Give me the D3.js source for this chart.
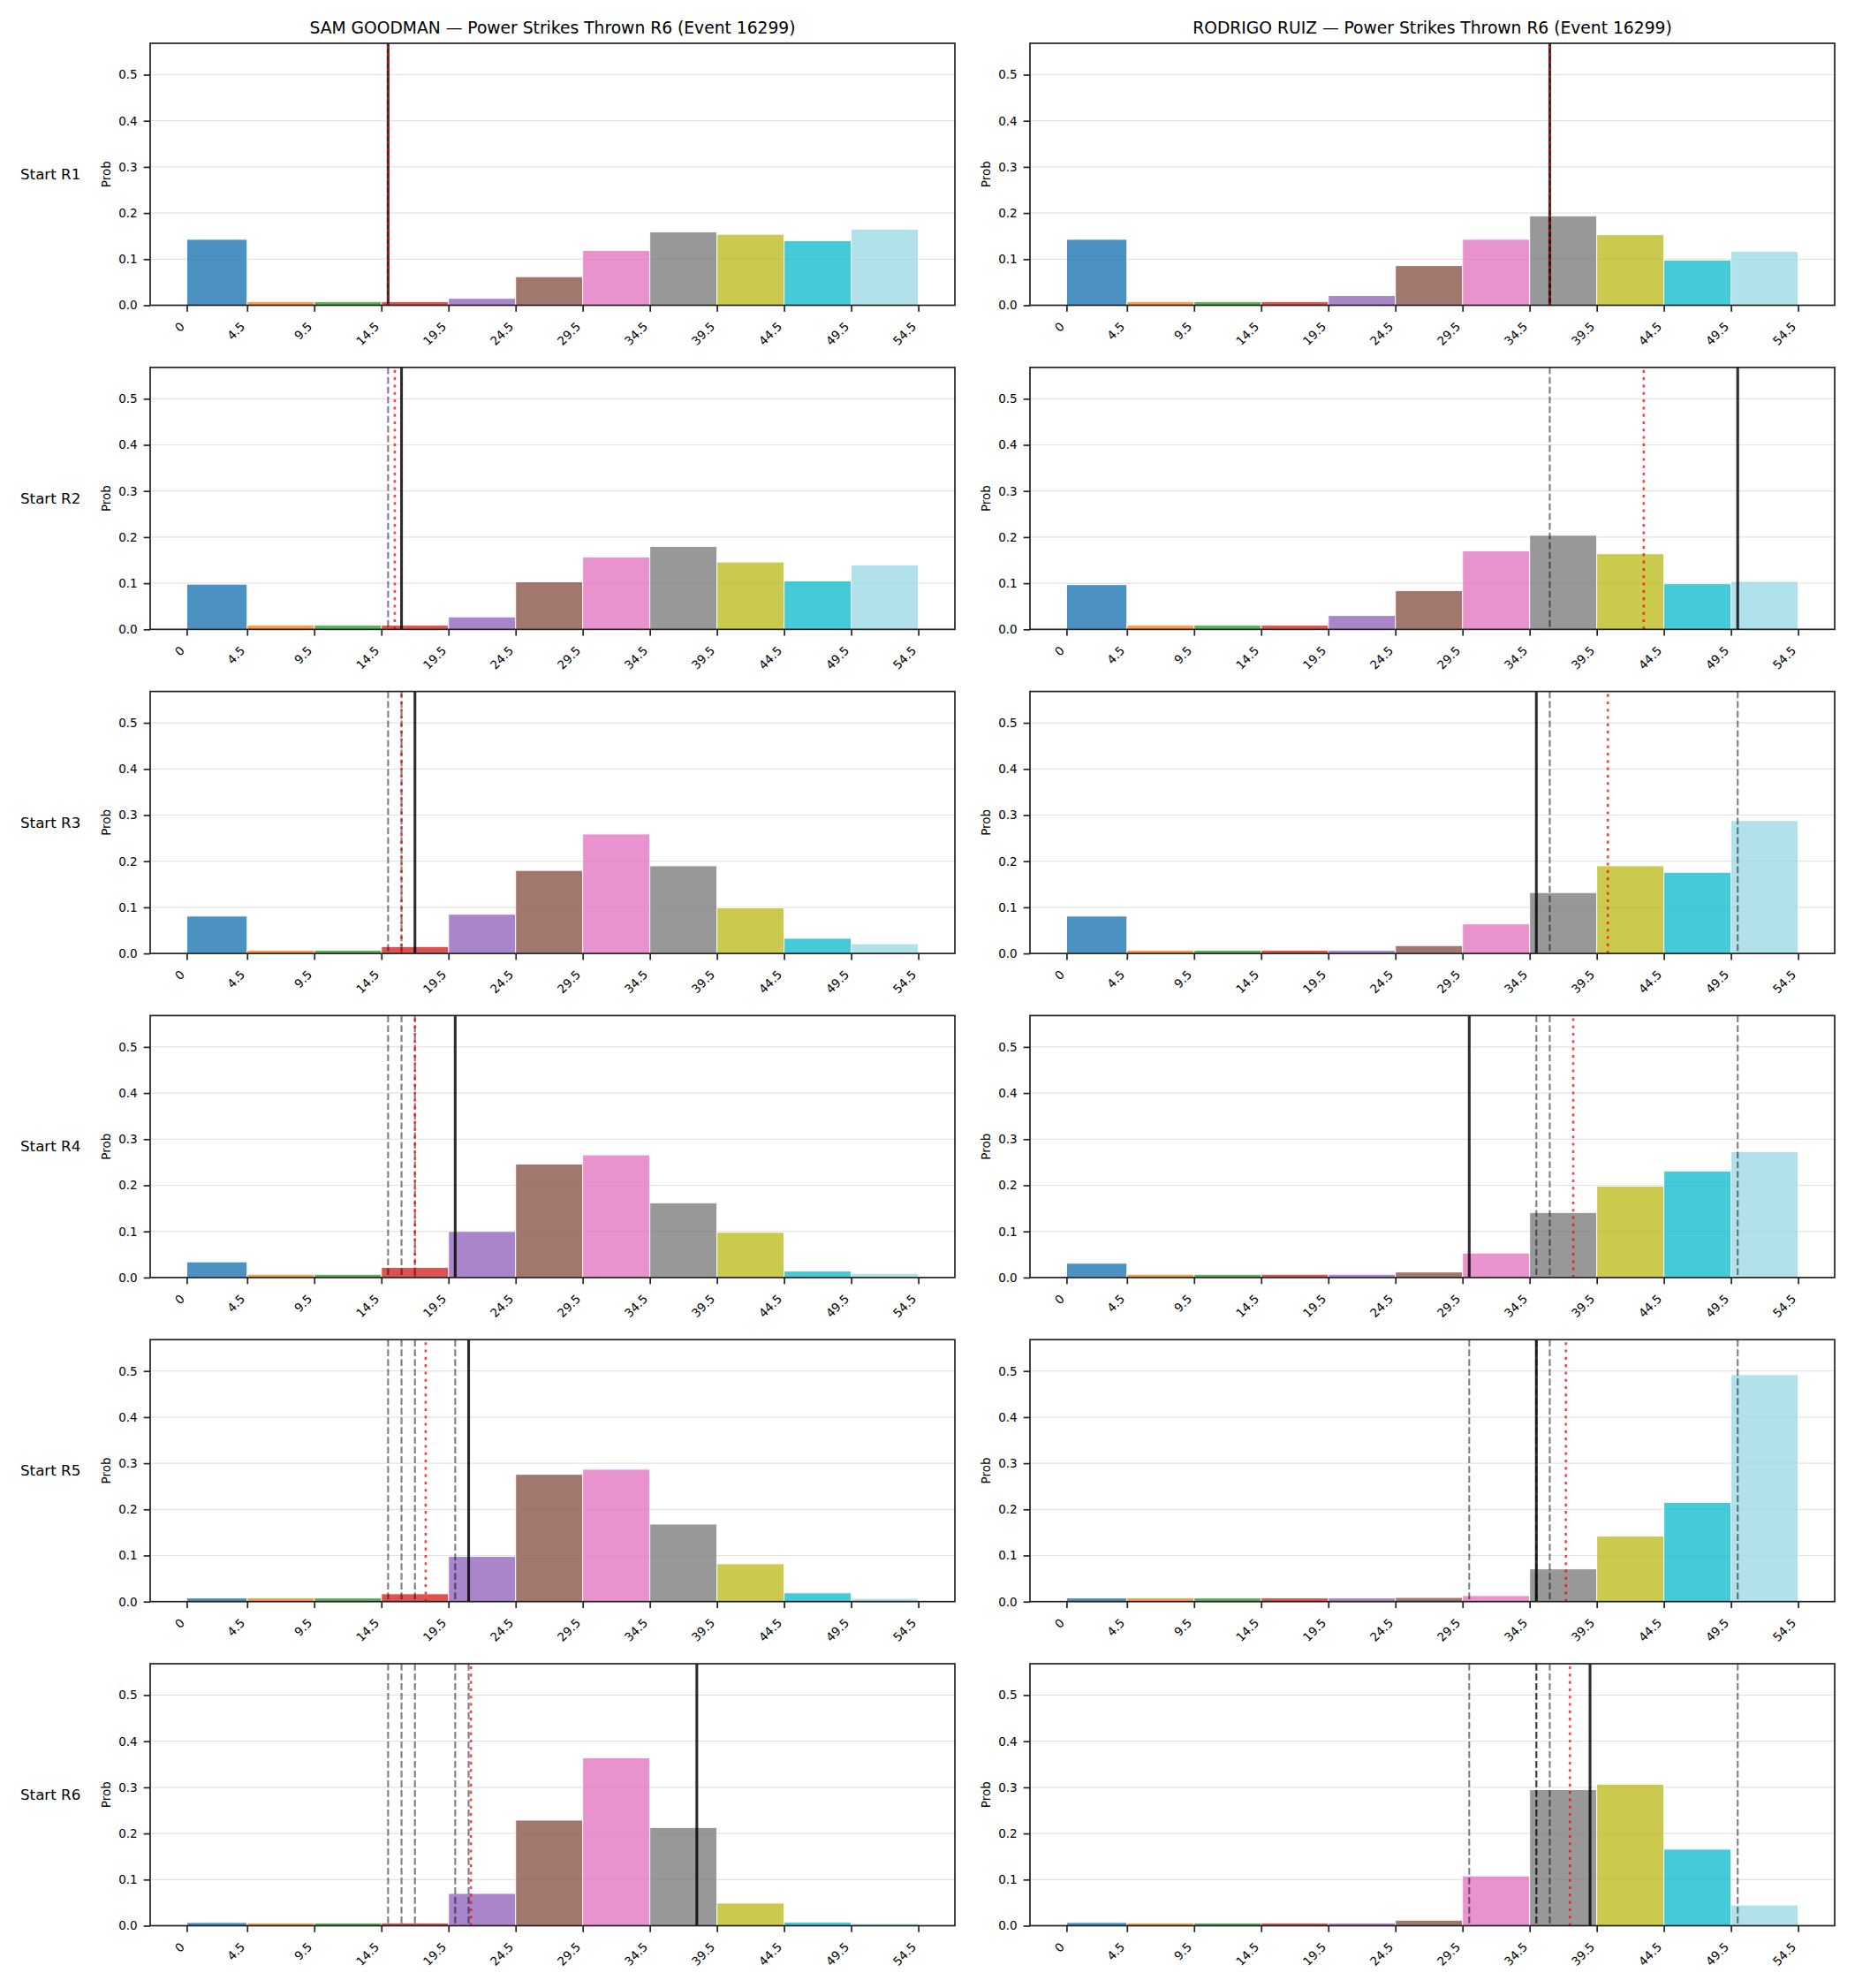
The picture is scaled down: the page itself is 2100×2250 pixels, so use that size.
<!DOCTYPE html>
<html>
<head>
<meta charset="utf-8">
<script src="https://cdn.jsdelivr.net/npm/d3@7/dist/d3.min.js"></script>
<style>
    body { margin: 0; background: #fff; }
    svg { display: block; font-family: "DejaVu Sans", sans-serif; }
</style>
</head>
<body>
<div id="chart"></div>
<script>

// bin edges + tick labels of the x axis
const binEdges = [0, 4.5, 9.5, 14.5, 19.5, 24.5, 29.5, 34.5, 39.5, 44.5, 49.5, 54.5];
const tickLabels = ["0", "4.5", "9.5", "14.5", "19.5", "24.5", "29.5", "34.5", "39.5", "44.5", "49.5", "54.5"];
const yTicks = [0, 0.1, 0.2, 0.3, 0.4, 0.5];
const rowLabels = ["Start R1", "Start R2", "Start R3", "Start R4", "Start R5", "Start R6"];
const fighters = ["SAM GOODMAN", "RODRIGO RUIZ"];

// one array of bin probabilities per starting round
const samProbs = [
    [0.143, 0.008, 0.008, 0.008, 0.015, 0.062, 0.119, 0.159, 0.154, 0.140, 0.165],
    [0.098, 0.009, 0.009, 0.009, 0.027, 0.103, 0.157, 0.180, 0.146, 0.105, 0.140],
    [0.081, 0.007, 0.007, 0.015, 0.085, 0.180, 0.259, 0.190, 0.099, 0.033, 0.021],
    [0.034, 0.007, 0.007, 0.022, 0.100, 0.246, 0.266, 0.162, 0.098, 0.014, 0.009],
    [0.008, 0.008, 0.008, 0.017, 0.098, 0.276, 0.287, 0.168, 0.082, 0.019, 0.007],
    [0.007, 0.006, 0.006, 0.006, 0.070, 0.229, 0.364, 0.213, 0.049, 0.008, 0.005]
];
const ruizProbs = [
    [0.143, 0.008, 0.008, 0.008, 0.021, 0.086, 0.143, 0.194, 0.153, 0.098, 0.117],
    [0.097, 0.009, 0.009, 0.009, 0.030, 0.084, 0.170, 0.204, 0.164, 0.099, 0.104],
    [0.081, 0.007, 0.007, 0.007, 0.007, 0.017, 0.064, 0.132, 0.190, 0.176, 0.288],
    [0.031, 0.007, 0.007, 0.007, 0.007, 0.012, 0.053, 0.141, 0.198, 0.231, 0.273],
    [0.008, 0.008, 0.008, 0.008, 0.008, 0.009, 0.013, 0.071, 0.142, 0.215, 0.492],
    [0.007, 0.006, 0.006, 0.006, 0.006, 0.012, 0.108, 0.295, 0.307, 0.166, 0.045]
];

// actual strikes per round (solid line, earlier ones dashed) and running mean (red dotted)
const samStrikes = [15, 16, 17, 20, 21, 38];
const ruizStrikes = [36, 50, 35, 30, 35, 39];
const samMeans = [15, 15.5, 16, 17, 17.8, 21.17];
const ruizMeans = [36, 43, 40.33, 37.75, 37.2, 37.5];

const barColors = ["#1f77b4", "#ff7f0e", "#2ca02c", "#d62728", "#9467bd", "#8c564b",
    "#e377c2", "#7f7f7f", "#bcbd22", "#17becf", "#9edae5"];


class HistPanel {

    constructor(svg, left, top, probs, strikes, round, meanVal) {
        this.svg = svg;
        this.left = left;
        this.top = top;
        this.probs = probs;
        this.strikes = strikes;
        this.round = round;
        this.meanVal = meanVal;

        this.initVis();
    }

    initVis() {
        let vis = this;

        vis.width = 911;
        vis.height = 296.5;

        vis.g = vis.svg.append("g")
            .attr("transform", `translate(${vis.left}, ${vis.top})`);

        vis.x = d3.scaleLinear()
            .domain([-2.725, 57.225])
            .range([0, vis.width]);

        vis.y = d3.scaleLinear()
            .domain([0, 0.568])
            .range([vis.height, 0]);

        // grid
        vis.g.append("g").selectAll("line")
            .data(yTicks.slice(1))
            .join("line")
            .attr("x1", 0)
            .attr("x2", vis.width)
            .attr("y1", d => vis.y(d))
            .attr("y2", d => vis.y(d))
            .attr("stroke", "#e3e3e3")
            .attr("stroke-width", 1.2);

        // bars
        let bins = vis.probs.map((p, i) => ({x0: binEdges[i], x1: binEdges[i + 1], p: p, i: i}));
        vis.g.append("g").selectAll("rect")
            .data(bins)
            .join("rect")
            .attr("x", d => vis.x(d.x0))
            .attr("width", d => vis.x(d.x1) - vis.x(d.x0))
            .attr("y", d => vis.y(d.p))
            .attr("height", d => vis.y(0) - vis.y(d.p))
            .attr("fill", d => barColors[d.i])
            .attr("stroke", "#fff")
            .attr("stroke-width", 1)
            .attr("opacity", 0.8);

        // earlier rounds, dashed
        let prev = vis.strikes.slice(0, vis.round);
        vis.g.append("g").selectAll("line")
            .data(prev)
            .join("line")
            .attr("x1", d => vis.x(d))
            .attr("x2", d => vis.x(d))
            .attr("y1", 0)
            .attr("y2", vis.height)
            .attr("stroke", "#000")
            .attr("stroke-opacity", 0.5)
            .attr("stroke-width", 2.1)
            .attr("stroke-dasharray", "7.7,3.3");

        // current round
        let cur = vis.strikes[vis.round];
        vis.g.append("line")
            .attr("x1", vis.x(cur))
            .attr("x2", vis.x(cur))
            .attr("y1", 0)
            .attr("y2", vis.height)
            .attr("stroke", "#000")
            .attr("stroke-opacity", 0.82)
            .attr("stroke-width", 3.1);

        // running mean
        vis.g.append("line")
            .attr("x1", vis.x(vis.meanVal))
            .attr("x2", vis.x(vis.meanVal))
            .attr("y1", 3)
            .attr("y2", vis.height)
            .attr("stroke", "red")
            .attr("stroke-opacity", 0.75)
            .attr("stroke-width", 2.6)
            .attr("stroke-dasharray", "3.1,5.2");

        // frame
        vis.g.append("rect")
            .attr("width", vis.width)
            .attr("height", vis.height)
            .attr("fill", "none")
            .attr("stroke", "#222")
            .attr("stroke-width", 1.7);

        // y axis
        let yAxis = vis.g.append("g")
            .call(d3.axisLeft(vis.y).tickValues(yTicks).tickFormat(d3.format(".1f")).tickSize(7.3).tickPadding(7));
        yAxis.select(".domain").remove();
        yAxis.selectAll("line").attr("stroke", "#222").attr("stroke-width", 1.7);
        yAxis.selectAll("text")
            .attr("font-family", "DejaVu Sans")
            .attr("font-size", "13.5px")
            .attr("fill", "#000");

        // x axis
        let xAxis = vis.g.append("g")
            .attr("transform", `translate(0, ${vis.height})`)
            .call(d3.axisBottom(vis.x).tickValues(binEdges).tickFormat((d, i) => tickLabels[i]).tickSize(7.3));
        xAxis.select(".domain").remove();
        xAxis.selectAll("line").attr("stroke", "#222").attr("stroke-width", 1.7);
        xAxis.selectAll("text")
            .attr("font-family", "DejaVu Sans")
            .attr("font-size", "13.5px")
            .attr("fill", "#000")
            .attr("text-anchor", "end")
            .attr("y", 0)
            .attr("dy", "-0.22em")
            .attr("transform", "translate(0, 27) rotate(-45)");

        // y label
        vis.g.append("text")
            .attr("transform", `translate(-45, ${vis.height / 2}) rotate(-90)`)
            .attr("text-anchor", "middle")
            .attr("font-size", "13.5px")
            .text("Prob");
    }
}


let svg = d3.select("#chart").append("svg")
    .attr("width", 2100)
    .attr("height", 2250);

svg.append("rect").attr("width", 2100).attr("height", 2250).attr("fill", "#fff");

const colLeft = [170, 1166];
const rowTop = 49;
const rowStep = 366.8;

let allProbs = [samProbs, ruizProbs];
let allStrikes = [samStrikes, ruizStrikes];
let allMeans = [samMeans, ruizMeans];

fighters.forEach((f, c) => {
    svg.append("text")
        .attr("x", colLeft[c] + 911 / 2)
        .attr("y", 38)
        .attr("text-anchor", "middle")
        .attr("font-size", "18.7px")
        .text(f + " \u2014 Power Strikes Thrown R6 (Event 16299)");

    rowLabels.forEach((r, i) => {
        new HistPanel(svg, colLeft[c], rowTop + i * rowStep, allProbs[c][i], allStrikes[c], i, allMeans[c][i]);
    });
});

// row labels on the far left
rowLabels.forEach((r, i) => {
    svg.append("text")
        .attr("x", 23)
        .attr("y", rowTop + i * rowStep + 296.5 / 2)
        .attr("dy", "0.35em")
        .attr("font-size", "16.7px")
        .text(r);
});

</script>
</body>
</html>
